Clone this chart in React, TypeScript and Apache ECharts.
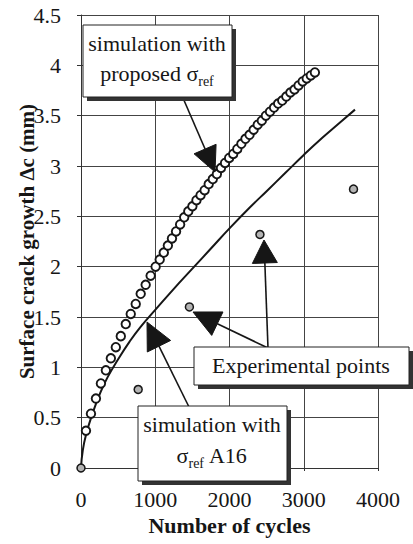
import React, { useEffect, useRef } from "react";
import * as echarts from "echarts";

// ---- data ----
const xTicks = [0, 1000, 2000, 3000, 4000];
const yTicks = [0, 0.5, 1, 1.5, 2, 2.5, 3, 3.5, 4, 4.5];

// simulation with proposed sigma_ref (open circles)
const propX = [67, 134, 201, 268, 335, 402, 469, 536, 603, 670, 737, 804, 871, 938, 1005, 1060, 1115, 1170, 1225, 1280, 1335, 1390, 1445, 1500, 1555, 1610, 1665, 1720, 1775, 1830, 1885, 1940, 1995, 2050, 2105, 2160, 2215, 2270, 2325, 2380, 2435, 2490, 2545, 2600, 2655, 2710, 2765, 2820, 2875, 2930, 2985, 3040, 3095, 3150];
const propY = [0.37, 0.54, 0.69, 0.84, 0.97, 1.09, 1.2, 1.31, 1.43, 1.53, 1.63, 1.73, 1.82, 1.91, 2.0, 2.07, 2.14, 2.21, 2.28, 2.35, 2.42, 2.49, 2.55, 2.6, 2.66, 2.71, 2.76, 2.82, 2.87, 2.92, 2.98, 3.03, 3.08, 3.12, 3.17, 3.22, 3.27, 3.31, 3.36, 3.41, 3.45, 3.5, 3.54, 3.58, 3.62, 3.65, 3.69, 3.73, 3.76, 3.8, 3.84, 3.87, 3.9, 3.93];

// simulation with sigma_ref A16 (solid line)
const a16X = [0, 25, 75, 150, 250, 357, 500, 650, 800, 1000, 1250, 1500, 1750, 2000, 2290, 2500, 2750, 3000, 3250, 3500, 3690];
const a16Y = [0, 0.18, 0.35, 0.53, 0.73, 0.9, 1.08, 1.25, 1.4, 1.57, 1.78, 1.98, 2.18, 2.38, 2.6, 2.75, 2.93, 3.11, 3.28, 3.44, 3.56];

// experimental points
const expX = [0, 770, 1460, 2410, 3670];
const expY = [0, 0.78, 1.6, 2.32, 2.77];

const FONT = "Liberation Serif";
const INK = "#161616";

function arrow(sx: number, sy: number, tx: number, ty: number, len: number, wid: number) {
  const dx = tx - sx, dy = ty - sy;
  const d = Math.sqrt(dx * dx + dy * dy);
  const ux = dx / d, uy = dy / d;
  const bx = tx - ux * len, by = ty - uy * len;
  const px = -uy, py = ux;
  return [
    { type: "line", z: 50, shape: { x1: sx, y1: sy, x2: bx, y2: by }, style: { stroke: INK, lineWidth: 1.6 } },
    {
      type: "polygon", z: 50,
      shape: { points: [[tx, ty], [bx + px * wid / 2, by + py * wid / 2], [bx - px * wid / 2, by - py * wid / 2]] },
      style: { fill: INK, stroke: INK, lineWidth: 1 },
    },
  ];
}

function box(x: number, y: number, w: number, h: number) {
  return [
    { type: "rect", z: 60, shape: { x: x + 4, y: y + 4, width: w, height: h }, style: { fill: "#333" } },
    { type: "rect", z: 61, shape: { x, y, width: w, height: h }, style: { fill: "#fff", stroke: "#222", lineWidth: 1 } },
  ];
}

function txt(x: number, y: number, text: string) {
  return {
    type: "text", z: 62, x, y,
    style: {
      text, align: "center", verticalAlign: "middle", fill: INK,
      rich: {
        m: { fontFamily: FONT, fontSize: 22, lineHeight: 30, fill: INK, verticalAlign: "middle" },
        s: { fontFamily: FONT, fontSize: 14, lineHeight: 16, fill: INK, verticalAlign: "bottom" },
      },
    },
  };
}

export default function App() {
  const ref = useRef<HTMLDivElement>(null);
  useEffect(() => {
    if (!ref.current) return;
    const chart = echarts.init(ref.current, undefined, { renderer: "svg" });
    const graphics: any[] = [
      ...box(83, 25, 149, 72),
      txt(157, 43, "{m|simulation with}"),
      txt(157, 73, "{m|proposed σ}{s|ref}"),
      ...box(194, 347, 215, 38),
      txt(301, 365, "{m|Experimental points}"),
      ...box(138, 406, 149, 75),
      txt(212, 424, "{m|simulation with}"),
      txt(212, 455, "{m|σ}{s|ref}{m| A16}"),
      ...arrow(183, 98, 215, 172, 25, 24),
      ...arrow(268, 348, 264, 240, 23, 25),
      ...arrow(268, 348, 193, 312, 27, 26),
      ...arrow(189, 407, 147, 322, 27, 26),
    ];
    chart.setOption({
      animation: false,
      backgroundColor: "#fff",
      grid: { left: 81, right: 35, top: 15, bottom: 76, containLabel: false, outerBoundsMode: "none" },
      xAxis: {
        type: "value", min: xTicks[0], max: xTicks[xTicks.length - 1], interval: 1000,
        name: "Number of cycles", nameLocation: "middle", nameGap: 46, nameMoveOverlap: false,
        nameTextStyle: { fontFamily: FONT, fontSize: 22, fontWeight: "bold", color: INK },
        axisLine: { lineStyle: { color: "#333", width: 1 } },
        axisTick: { show: true, length: 3, lineStyle: { color: "#333" } },
        axisLabel: { fontFamily: FONT, fontSize: 22, color: INK, margin: 20, formatter: (v: number) => String(v) },
        splitLine: { show: true, lineStyle: { color: "#444", width: 1 } },
      },
      yAxis: {
        type: "value", min: yTicks[0], max: yTicks[yTicks.length - 1], interval: 0.5,
        name: "Surface crack growth Δc (mm)", nameLocation: "middle", nameGap: 44, nameMoveOverlap: false,
        nameTextStyle: { fontFamily: FONT, fontSize: 21, fontWeight: "bold", color: INK },
        axisLine: { show: true, lineStyle: { color: "#333", width: 1 } },
        axisTick: { show: true, length: 4, lineStyle: { color: "#333" } },
        axisLabel: { fontFamily: FONT, fontSize: 22, color: INK, margin: 20, formatter: (v: number) => String(v) },
        splitLine: { show: true, lineStyle: { color: "#444", width: 1 } },
      },
      series: [
        {
          type: "line", name: "A16", smooth: true, showSymbol: false, z: 3,
          data: a16X.map((x, i) => [x, a16Y[i]]),
          lineStyle: { color: INK, width: 2 },
        },
        {
          type: "scatter", name: "proposed", symbol: "circle", symbolSize: 8.5, z: 4,
          data: propX.map((x, i) => [x, propY[i]]),
          itemStyle: { color: "#fff", borderColor: INK, borderWidth: 1.9, opacity: 1 },
        },
        {
          type: "scatter", name: "experimental", symbol: "circle", symbolSize: 8, z: 5,
          data: expX.map((x, i) => [x, expY[i]]),
          itemStyle: { color: "#b4b4b4", borderColor: INK, borderWidth: 1.5, opacity: 1 },
        },
      ],
      graphic: graphics,
    });
    return () => chart.dispose();
  }, []);
  return <div ref={ref} style={{ position: "fixed", left: 0, top: 0, width: 413, height: 544, background: "#fff" }} />;
}
